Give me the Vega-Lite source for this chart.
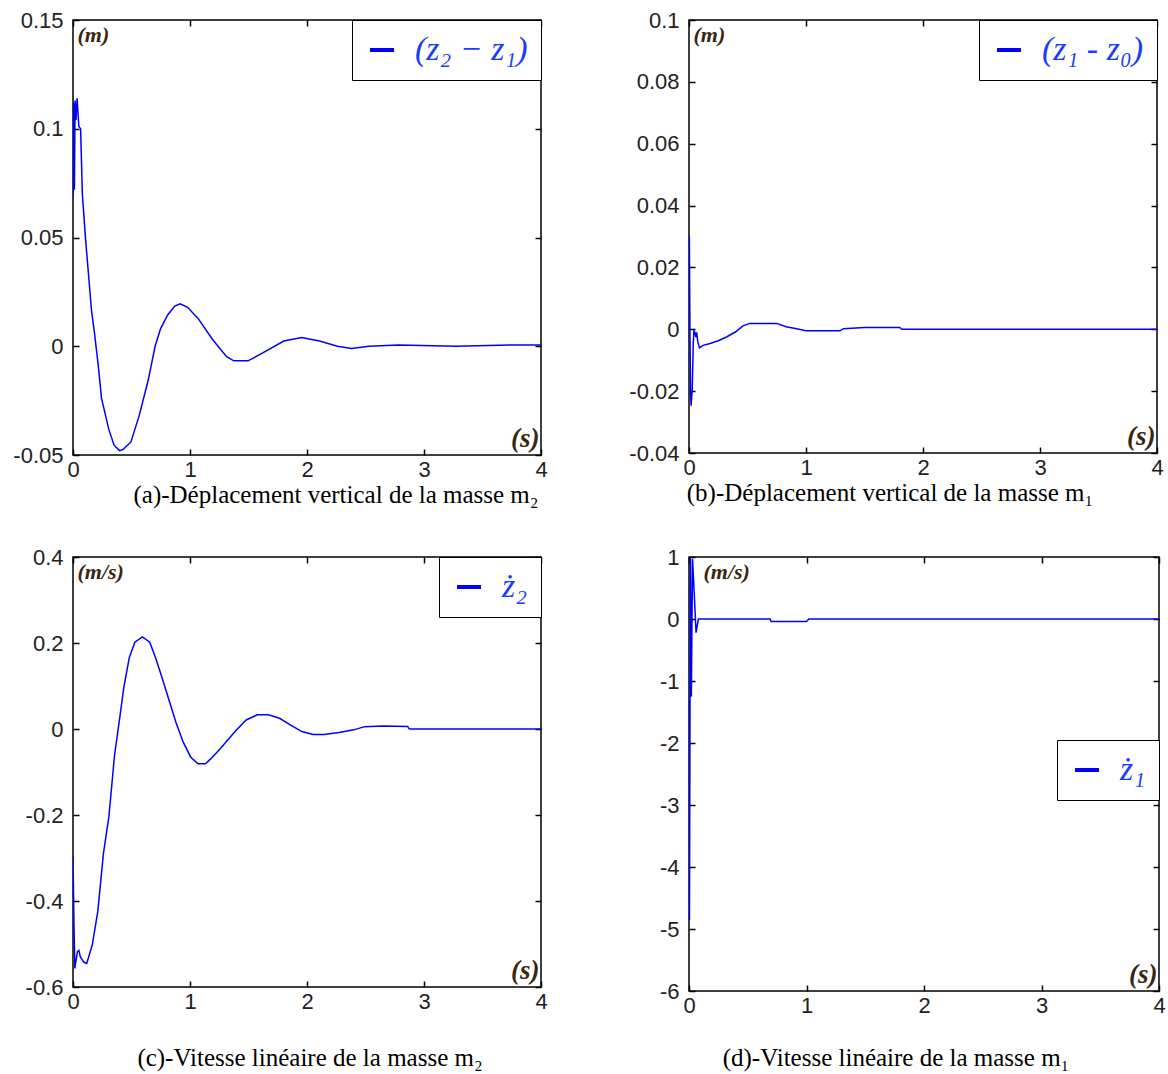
{
  "$schema": "https://vega.github.io/schema/vega-lite/v6.json",
  "background": "white",
  "padding": {"left": 12, "top": 8, "right": 4, "bottom": 4},
  "datasets": {
    "a": [
      {"t": 0, "v": 0.069}, {"t": 0.006, "v": 0.112}, {"t": 0.012, "v": 0.072}, {"t": 0.018, "v": 0.113},
      {"t": 0.026, "v": 0.104}, {"t": 0.035, "v": 0.114}, {"t": 0.05, "v": 0.101}, {"t": 0.065, "v": 0.1},
      {"t": 0.08, "v": 0.07}, {"t": 0.107, "v": 0.0495}, {"t": 0.159, "v": 0.016}, {"t": 0.183, "v": 0.0064},
      {"t": 0.214, "v": -0.008}, {"t": 0.244, "v": -0.024}, {"t": 0.305, "v": -0.038}, {"t": 0.351, "v": -0.0455},
      {"t": 0.397, "v": -0.048}, {"t": 0.427, "v": -0.0475}, {"t": 0.495, "v": -0.044}, {"t": 0.565, "v": -0.032},
      {"t": 0.641, "v": -0.016}, {"t": 0.702, "v": 0}, {"t": 0.748, "v": 0.008}, {"t": 0.809, "v": 0.0144},
      {"t": 0.87, "v": 0.0185}, {"t": 0.916, "v": 0.0195}, {"t": 0.977, "v": 0.018}, {"t": 1.069, "v": 0.0128},
      {"t": 1.191, "v": 0.0032}, {"t": 1.313, "v": -0.0048}, {"t": 1.374, "v": -0.0067}, {"t": 1.496, "v": -0.0067},
      {"t": 1.618, "v": -0.0032}, {"t": 1.802, "v": 0.0024}, {"t": 1.954, "v": 0.004}, {"t": 2.107, "v": 0.0024},
      {"t": 2.26, "v": 0}, {"t": 2.38, "v": -0.001}, {"t": 2.53, "v": 0}, {"t": 2.78, "v": 0.0006},
      {"t": 3.27, "v": 0}, {"t": 3.76, "v": 0.0006}, {"t": 4.0, "v": 0.0006}
    ],
    "b": [
      {"t": 0, "v": 0}, {"t": 0.003, "v": 0.03}, {"t": 0.008, "v": 0.0}, {"t": 0.013, "v": -0.02},
      {"t": 0.018, "v": -0.0247}, {"t": 0.028, "v": -0.019}, {"t": 0.036, "v": -0.005}, {"t": 0.042, "v": -0.0005},
      {"t": 0.05, "v": -0.001}, {"t": 0.058, "v": -0.0025}, {"t": 0.066, "v": -0.001}, {"t": 0.075, "v": -0.004},
      {"t": 0.09, "v": -0.006}, {"t": 0.12, "v": -0.0052}, {"t": 0.18, "v": -0.0046}, {"t": 0.25, "v": -0.0037},
      {"t": 0.32, "v": -0.0025}, {"t": 0.4, "v": -0.0008}, {"t": 0.46, "v": 0.0011}, {"t": 0.52, "v": 0.0019},
      {"t": 0.75, "v": 0.0019}, {"t": 0.83, "v": 0.0008}, {"t": 0.92, "v": 0.0002}, {"t": 1.0, "v": -0.0005},
      {"t": 1.29, "v": -0.0005}, {"t": 1.32, "v": 0.0002}, {"t": 1.5, "v": 0.0006}, {"t": 1.8, "v": 0.0006},
      {"t": 1.82, "v": 0}, {"t": 4, "v": 0}
    ],
    "c": [
      {"t": 0, "v": -0.294}, {"t": 0.008, "v": -0.45}, {"t": 0.016, "v": -0.557}, {"t": 0.025, "v": -0.54},
      {"t": 0.038, "v": -0.518}, {"t": 0.05, "v": -0.515}, {"t": 0.063, "v": -0.53}, {"t": 0.092, "v": -0.542},
      {"t": 0.117, "v": -0.545}, {"t": 0.165, "v": -0.502}, {"t": 0.212, "v": -0.424}, {"t": 0.26, "v": -0.29},
      {"t": 0.307, "v": -0.203}, {"t": 0.355, "v": -0.061}, {"t": 0.403, "v": 0.033}, {"t": 0.434, "v": 0.096},
      {"t": 0.482, "v": 0.167}, {"t": 0.529, "v": 0.202}, {"t": 0.593, "v": 0.214}, {"t": 0.656, "v": 0.202},
      {"t": 0.704, "v": 0.167}, {"t": 0.751, "v": 0.128}, {"t": 0.815, "v": 0.072}, {"t": 0.878, "v": 0.017},
      {"t": 0.941, "v": -0.03}, {"t": 1.005, "v": -0.065}, {"t": 1.068, "v": -0.081}, {"t": 1.132, "v": -0.081},
      {"t": 1.179, "v": -0.069}, {"t": 1.258, "v": -0.046}, {"t": 1.385, "v": -0.006}, {"t": 1.48, "v": 0.021},
      {"t": 1.575, "v": 0.033}, {"t": 1.67, "v": 0.033}, {"t": 1.765, "v": 0.025}, {"t": 1.861, "v": 0.009},
      {"t": 1.956, "v": -0.006}, {"t": 2.051, "v": -0.013}, {"t": 2.146, "v": -0.013}, {"t": 2.273, "v": -0.008},
      {"t": 2.399, "v": -0.002}, {"t": 2.494, "v": 0.0055}, {"t": 2.653, "v": 0.007}, {"t": 2.859, "v": 0.006},
      {"t": 2.875, "v": 0}, {"t": 4, "v": 0}
    ],
    "d": [
      {"t": 0, "v": -1.3}, {"t": 0.004, "v": -4.85}, {"t": 0.012, "v": 0.98}, {"t": 0.02, "v": -1.25},
      {"t": 0.03, "v": 0.97}, {"t": 0.045, "v": 0.4}, {"t": 0.06, "v": -0.22}, {"t": 0.08, "v": 0},
      {"t": 0.69, "v": 0}, {"t": 0.7, "v": -0.04}, {"t": 1.0, "v": -0.04}, {"t": 1.02, "v": 0}, {"t": 4, "v": 0}
    ]
  },
  "columns": 2,
  "spacing": {"row": 36, "column": 80},
  "resolve": {"scale": {"color": "independent"}, "legend": {"color": "independent"}},
  "concat": [
    {
      "width": 468, "height": 435,
      "title": {"text": "(a)-Déplacement vertical de la masse m₂", "dx": 29, "offset": 3},
      "layer": [
        {
          "data": {"name": "a"},
          "mark": {"type": "line", "strokeWidth": 1.5, "clip": true},
          "encoding": {
            "x": {"field": "t", "type": "quantitative", "scale": {"domain": [0, 4], "nice": false, "zero": false},
                  "axis": {"orient": "bottom", "values": [0, 1, 2, 3, 4], "format": "d", "title": "(s)", "titleX": 466, "titleY": -3, "titleAlign": "right", "titleBaseline": "bottom", "titleFontSize": 27}},
            "y": {"field": "v", "type": "quantitative", "scale": {"domain": [-0.05, 0.15], "nice": false, "zero": false},
                  "axis": {"orient": "left", "values": [-0.05, 0, 0.05, 0.1, 0.15], "format": ".2~f", "title": "(m)", "titleAngle": 0, "titleX": 4, "titleY": 4, "titleAlign": "left", "titleBaseline": "top"}},
            "color": {"datum": "(z₂ − z₁)", "type": "nominal", "scale": {"range": ["#0000ff"]},
                      "legend": {"orient": "top-right"}}
          }
        },
        {
          "data": {"name": "a"},
          "mark": {"type": "line", "opacity": 0},
          "encoding": {
            "x": {"field": "t", "type": "quantitative", "axis": {"orient": "top", "values": [0, 1, 2, 3, 4], "labels": false, "title": null}},
            "y": {"field": "v", "type": "quantitative", "axis": {"orient": "right", "values": [-0.05, 0, 0.05, 0.1, 0.15], "labels": false, "title": null}}
          }
        }
      ],
      "resolve": {"axis": {"x": "independent", "y": "independent"}}
    },
    {
      "width": 468, "height": 433,
      "title": {"text": "(b)-Déplacement vertical de la masse m₁", "dx": -33, "offset": 3},
      "layer": [
        {
          "data": {"name": "b"},
          "mark": {"type": "line", "strokeWidth": 1.5, "clip": true},
          "encoding": {
            "x": {"field": "t", "type": "quantitative", "scale": {"domain": [0, 4], "nice": false, "zero": false},
                  "axis": {"orient": "bottom", "values": [0, 1, 2, 3, 4], "format": "d", "title": "(s)", "titleX": 466, "titleY": -3, "titleAlign": "right", "titleBaseline": "bottom", "titleFontSize": 27}},
            "y": {"field": "v", "type": "quantitative", "scale": {"domain": [-0.04, 0.1], "nice": false, "zero": false},
                  "axis": {"orient": "left", "values": [-0.04, -0.02, 0, 0.02, 0.04, 0.06, 0.08, 0.1], "format": ".2~f", "title": "(m)", "titleAngle": 0, "titleX": 4, "titleY": 4, "titleAlign": "left", "titleBaseline": "top"}},
            "color": {"datum": "(z₁ - z₀)", "type": "nominal", "scale": {"range": ["#0000ff"]},
                      "legend": {"orient": "top-right"}}
          }
        },
        {
          "data": {"name": "b"},
          "mark": {"type": "line", "opacity": 0},
          "encoding": {
            "x": {"field": "t", "type": "quantitative", "axis": {"orient": "top", "values": [0, 1, 2, 3, 4], "labels": false, "title": null}},
            "y": {"field": "v", "type": "quantitative", "axis": {"orient": "right", "values": [-0.04, -0.02, 0, 0.02, 0.04, 0.06, 0.08, 0.1], "labels": false, "title": null}}
          }
        }
      ],
      "resolve": {"axis": {"x": "independent", "y": "independent"}}
    },
    {
      "width": 468, "height": 430,
      "title": {"text": "(c)-Vitesse linéaire de la masse m₂", "dx": 3, "offset": 34},
      "layer": [
        {
          "data": {"name": "c"},
          "mark": {"type": "line", "strokeWidth": 1.5, "clip": true},
          "encoding": {
            "x": {"field": "t", "type": "quantitative", "scale": {"domain": [0, 4], "nice": false, "zero": false},
                  "axis": {"orient": "bottom", "values": [0, 1, 2, 3, 4], "format": "d", "title": "(s)", "titleX": 466, "titleY": -3, "titleAlign": "right", "titleBaseline": "bottom", "titleFontSize": 27}},
            "y": {"field": "v", "type": "quantitative", "scale": {"domain": [-0.6, 0.4], "nice": false, "zero": false},
                  "axis": {"orient": "left", "values": [-0.6, -0.4, -0.2, 0, 0.2, 0.4], "format": ".1~f", "title": "(m/s)", "titleAngle": 0, "titleX": 4, "titleY": 4, "titleAlign": "left", "titleBaseline": "top"}},
            "color": {"datum": "ż₂", "type": "nominal", "scale": {"range": ["#0000ff"]},
                      "legend": {"orient": "top-right"}}
          }
        },
        {
          "data": {"name": "c"},
          "mark": {"type": "line", "opacity": 0},
          "encoding": {
            "x": {"field": "t", "type": "quantitative", "axis": {"orient": "top", "values": [0, 1, 2, 3, 4], "labels": false, "title": null}},
            "y": {"field": "v", "type": "quantitative", "axis": {"orient": "right", "values": [-0.6, -0.4, -0.2, 0, 0.2, 0.4], "labels": false, "title": null}}
          }
        }
      ],
      "resolve": {"axis": {"x": "independent", "y": "independent"}}
    },
    {
      "width": 470, "height": 434,
      "title": {"text": "(d)-Vitesse linéaire de la masse m₁", "dx": -28, "offset": 30},
      "layer": [
        {
          "data": {"name": "d"},
          "mark": {"type": "line", "strokeWidth": 1.5, "clip": true},
          "encoding": {
            "x": {"field": "t", "type": "quantitative", "scale": {"domain": [0, 4], "nice": false, "zero": false},
                  "axis": {"orient": "bottom", "values": [0, 1, 2, 3, 4], "format": "d", "title": "(s)", "titleX": 468, "titleY": -3, "titleAlign": "right", "titleBaseline": "bottom", "titleFontSize": 27}},
            "y": {"field": "v", "type": "quantitative", "scale": {"domain": [-6, 1], "nice": false, "zero": false},
                  "axis": {"orient": "left", "values": [-6, -5, -4, -3, -2, -1, 0, 1], "format": "d", "title": "(m/s)", "titleAngle": 0, "titleX": 14, "titleY": 4, "titleAlign": "left", "titleBaseline": "top"}},
            "color": {"datum": "ż₁", "type": "nominal", "scale": {"range": ["#0000ff"]},
                      "legend": {"orient": "none", "legendX": 368, "legendY": 183}}
          }
        },
        {
          "data": {"name": "d"},
          "mark": {"type": "line", "opacity": 0},
          "encoding": {
            "x": {"field": "t", "type": "quantitative", "axis": {"orient": "top", "values": [0, 1, 2, 3, 4], "labels": false, "title": null}},
            "y": {"field": "v", "type": "quantitative", "axis": {"orient": "right", "values": [-6, -5, -4, -3, -2, -1, 0, 1], "labels": false, "title": null}}
          }
        }
      ],
      "resolve": {"axis": {"x": "independent", "y": "independent"}}
    }
  ],
  "config": {
    "view": {"stroke": "black", "strokeWidth": 1.5},
    "locale": {"number": {"decimal": ".", "thousands": ",", "grouping": [3], "currency": ["$", ""], "minus": "-"}},
    "axis": {
      "grid": false, "domain": false, "tickSize": -6, "tickColor": "black", "tickWidth": 1.5,
      "labelFont": "Liberation Sans", "labelFontSize": 22, "labelColor": "#222222",
      "labelFlush": false, "labelOverlap": false, "labelPadding": 10,
      "titleFont": "Liberation Serif", "titleFontStyle": "italic", "titleFontWeight": "bold",
      "titleColor": "#3a2610", "titleFontSize": 22, "titlePadding": 0
    },
    "axisY": {"labelPadding": 16},
    "legend": {
      "title": null, "offset": 0, "strokeColor": "black", "fillColor": "white", "padding": 13,
      "labelFont": "Liberation Serif", "labelFontSize": 34, "labelFontStyle": "italic", "labelColor": "#1a3cff",
      "labelLimit": 0, "labelOffset": 16, "symbolType": "stroke", "symbolSize": 576, "symbolStrokeWidth": 4
    },
    "title": {"font": "Liberation Serif", "fontSize": 25, "fontWeight": "normal", "color": "black", "orient": "bottom", "anchor": "middle"}
  }
}
